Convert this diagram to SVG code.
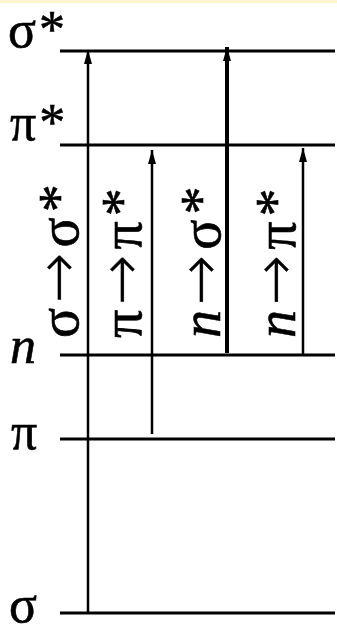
<svg xmlns="http://www.w3.org/2000/svg" width="337" height="630" viewBox="0 0 337 630">
<style>
.lvl{stroke:#000;stroke-width:3;fill:none}
.arr{stroke:#000;stroke-width:2.5;fill:none}
.thick{stroke-width:4}
.lbl{font-family:"Liberation Serif","Times New Roman",serif;font-size:52px;fill:#000;stroke:#000;stroke-width:0.6;letter-spacing:3px}
.rot{font-family:"Liberation Serif","Times New Roman",serif;font-size:56px;fill:#000;stroke:#000;stroke-width:0.6;letter-spacing:5px}
.ar{font-family:"DejaVu Sans",sans-serif;font-weight:200;font-size:60px;stroke-width:0.4}
.it{font-style:italic}
</style>
<defs>
<marker id="ah" markerUnits="userSpaceOnUse" markerWidth="16" markerHeight="10" refX="14" refY="5" orient="auto" viewBox="0 0 14 10">
<path d="M14,5 L0,1 L0,9 Z" fill="#000"/>
</marker>
</defs>
<rect x="0" y="0" width="337" height="630" fill="#fff"/>
<rect x="0" y="0" width="337" height="3" fill="#fdf7cf"/>
<g id="level-sigma-star"><line class="lvl" x1="60" y1="51" x2="335" y2="51"/><text class="lbl" x="8" y="47">σ*</text></g>
<g id="level-pi-star"><line class="lvl" x1="60" y1="145" x2="335" y2="145"/><text class="lbl" x="10" y="140">π*</text></g>
<g id="level-n"><line class="lvl" x1="60" y1="355" x2="335" y2="355"/><text class="lbl it" x="10" y="363">n</text></g>
<g id="level-pi"><line class="lvl" x1="60" y1="439" x2="335" y2="439"/><text class="lbl" x="11" y="449">π</text></g>
<g id="level-sigma"><line class="lvl" x1="60" y1="613" x2="335" y2="613"/><text class="lbl" x="9" y="622">σ</text></g>
<g id="connectors">
<line class="arr" x1="88" y1="614" x2="88" y2="50" marker-end="url(#ah)"/>
<line class="arr" x1="152" y1="434" x2="152" y2="150" marker-end="url(#ah)"/>
<line class="arr thick" x1="227" y1="353" x2="227" y2="47" marker-end="url(#ah)"/>
<line class="arr" x1="303" y1="355" x2="303" y2="148" marker-end="url(#ah)"/>
</g>
<g id="label-sigma-sigma"><text class="rot" transform="translate(78,338) rotate(-90)">σ<tspan class="ar">→</tspan>σ*</text></g>
<g id="label-pi-pi"><text class="rot" transform="translate(141,338) rotate(-90)">π<tspan class="ar">→</tspan>π*</text></g>
<g id="label-n-sigma"><text class="rot" transform="translate(220,338) rotate(-90)"><tspan class="it">n</tspan><tspan class="ar">→</tspan>σ*</text></g>
<g id="label-n-pi"><text class="rot" transform="translate(295,338) rotate(-90)"><tspan class="it">n</tspan><tspan class="ar">→</tspan>π*</text></g>
</svg>
